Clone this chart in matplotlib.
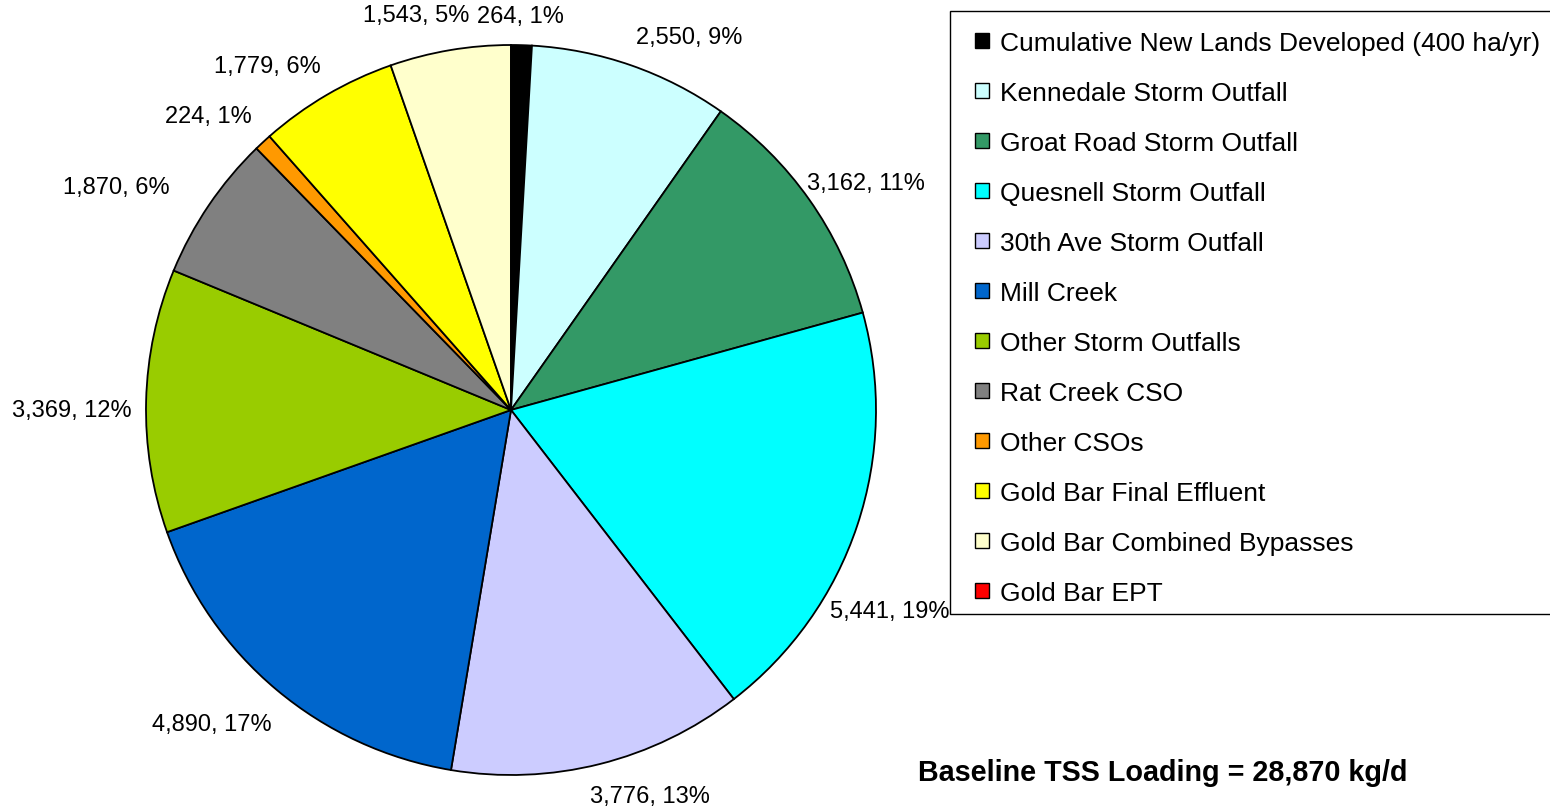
import numpy as np
import matplotlib.pyplot as plt
from matplotlib.patches import Patch, Rectangle

plt.rcParams['font.family'] = ['Liberation Sans', 'DejaVu Sans']

sources = [
    "Cumulative New Lands Developed (400 ha/yr)",
    "Kennedale Storm Outfall",
    "Groat Road Storm Outfall",
    "Quesnell Storm Outfall",
    "30th Ave Storm Outfall",
    "Mill Creek",
    "Other Storm Outfalls",
    "Rat Creek CSO",
    "Other CSOs",
    "Gold Bar Final Effluent",
    "Gold Bar Combined Bypasses",
    "Gold Bar EPT",
]
loads = [264, 2550, 3162, 5441, 3776, 4890, 3369, 1870, 224, 1779, 1543, 0]
colors = ["#000000", "#CCFFFF", "#339966", "#00FFFF", "#CCCCFF", "#0066CC",
          "#99CC00", "#808080", "#FF9900", "#FFFF00", "#FFFFCC", "#FF0000"]
total_load = 28870

# label nudges in pixels (right, down) from the mid-angle anchor, like Excel's best fit
nudges = [(-2, 7), (46, 6), (27, 4), (-2, 74), (41, -3), (-41, 6),
          (-38, 10), (-62, 2), (-30, 0), (-41, 3), (-28, 1), (0, 0)]

W, H = 1550, 812
fig = plt.figure(figsize=(W / 100, H / 100), dpi=100)
cx, cy, r = 511, 411, 365
ax = fig.add_axes([(cx - r) / W, (H - cy - r) / H, 2 * r / W, 2 * r / H])

wedges, _ = ax.pie(loads, colors=colors, startangle=90, counterclock=False,
                   wedgeprops=dict(edgecolor="black", linewidth=1.3))
ax.set_xlim(-1, 1)
ax.set_ylim(-1, 1)
ax.set_aspect("equal")
ax.axis("off")

fracs = np.array(loads) / sum(loads)
mids = np.cumsum(fracs) - fracs / 2
for i, (v, m) in enumerate(zip(loads, mids)):
    if v == 0:
        continue
    th = np.deg2rad(90 - 360 * m)
    pct = round(100 * v / total_load)
    dx, dy = nudges[i]
    ax.annotate(f"{v:,}, {pct}%", xy=(1.1 * np.cos(th), 1.1 * np.sin(th)),
                xytext=(dx, -dy), textcoords="offset pixels",
                ha="center", va="center", fontsize=17, annotation_clip=False)

# legend box runs off the right edge like the original
fig.patches.append(Rectangle((950 / W, 1 - 615 / H), 620 / W, 603 / H,
                             transform=fig.transFigure, facecolor="white",
                             edgecolor="black", linewidth=1.0, zorder=0))

handles = [Patch(facecolor=c, edgecolor="black", linewidth=1.0) for c in colors]
leg = fig.legend(handles, sources, loc="upper left",
                 bbox_to_anchor=(975 / W, 1 - 32 / H), fontsize=19,
                 frameon=False, borderaxespad=0, borderpad=0,
                 labelspacing=0.985, handlelength=0.53, handleheight=0.53,
                 handletextpad=0.42)

fig.text(918 / W, 1 - 773 / H, f"Baseline TSS Loading = {total_load:,} kg/d",
         fontsize=20.7, fontweight="bold", ha="left", va="center")

fig.savefig("out.png", dpi=100)
